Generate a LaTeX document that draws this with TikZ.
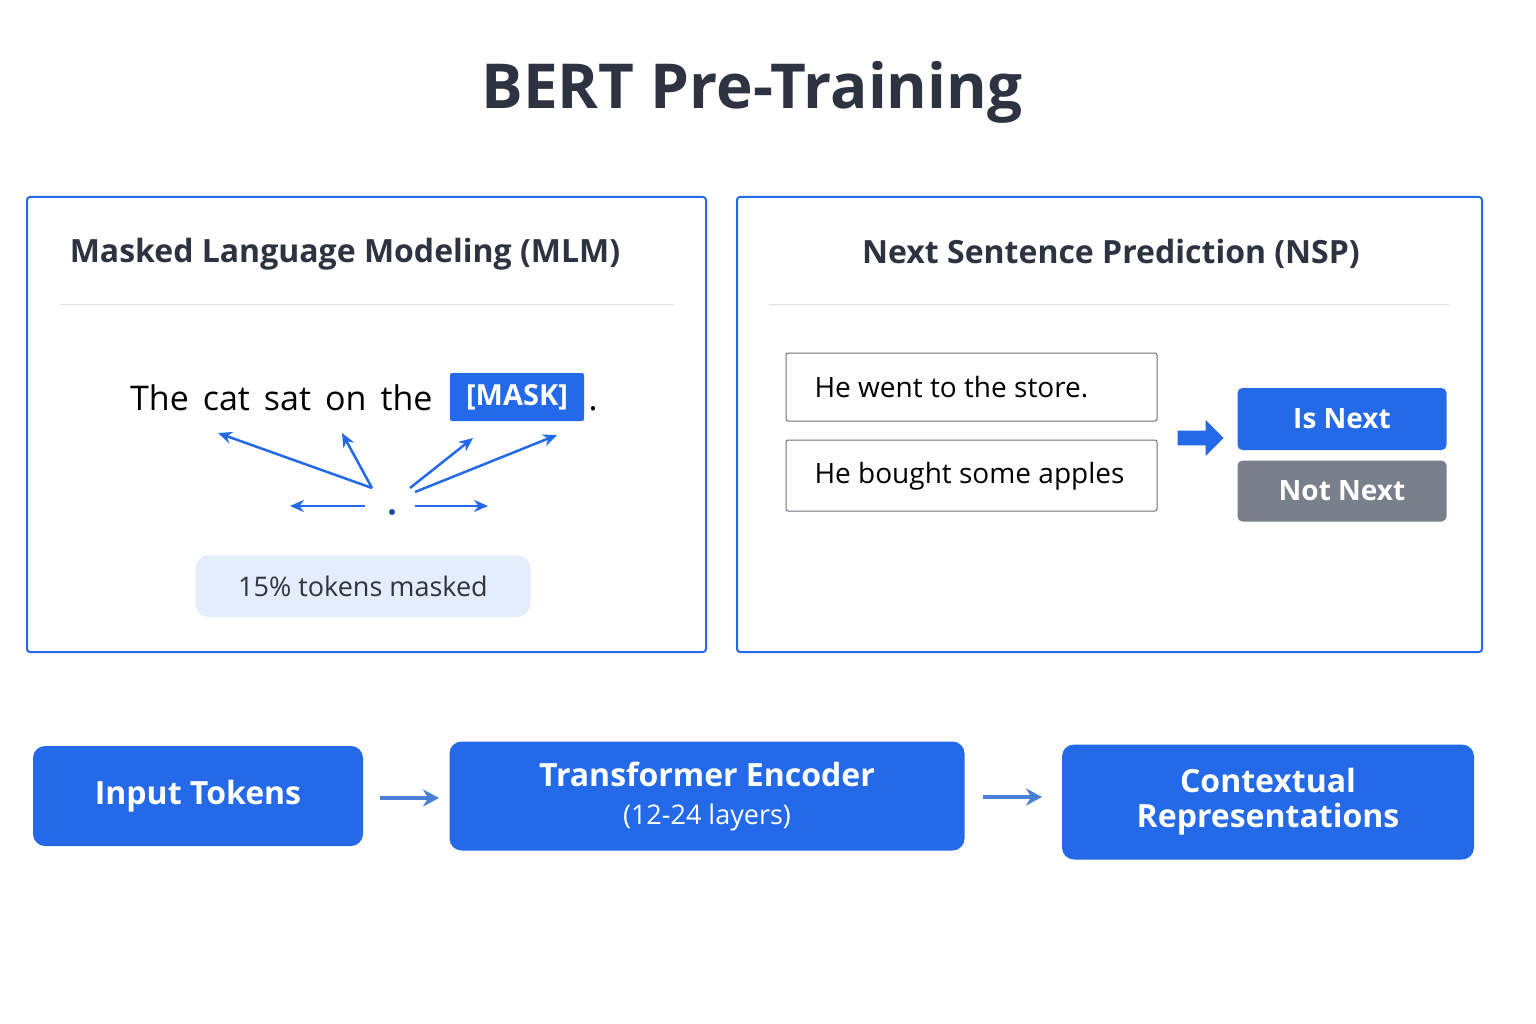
\documentclass[tikz,border=0pt]{standalone}
\usepackage{fontspec}
\setmainfont{Open Sans}
\usetikzlibrary{arrows.meta,shapes.arrows}
\definecolor{bblue}{HTML}{2369E8}
\definecolor{dark}{HTML}{2D3340}
\definecolor{lblue}{HTML}{E3EDFB}
\definecolor{gbox}{HTML}{7A808B}
\definecolor{arr}{HTML}{4A7FD8}
\newcommand{\fs}[1]{\fontsize{#1}{#1}\selectfont}
\tikzset{
 panel/.style={draw=bblue,line width=2pt,rounded corners=3pt},
 bluebox/.style={fill=bblue,rounded corners=12pt,text=white,font=\fs{32}\bfseries,align=center},
 sentbox/.style={draw=dark!70,line width=1pt,rounded corners=2pt},
 mlmarrow/.style={-{Stealth[length=14pt,width=12pt]},bblue,line width=2.5pt},
 flowarrow/.style={-{Stealth[length=16pt,width=17pt]},arr,line width=3.5pt},
}
\begin{document}
\begin{tikzpicture}[x=1pt,y=-1pt]
\useasboundingbox (0,0) rectangle (1536,1024);
\fill[white] (0,0) rectangle (1536,1024);
\node[text=dark,font=\fs{62}\bfseries] (title) at (752,92) {BERT Pre-Training};
% left panel
\draw[panel] (27,197) rectangle (706,652);
\node[text=dark,font=\fs{32}\bfseries] (mlmt) at (345,254) {Masked Language Modeling (MLM)};
\draw[black!12,line width=1pt] (60,304) -- (674,304);
\node[anchor=base east,font=\fs{34}] (sent) at (436,410) {\spaceskip=14pt plus 2pt The cat sat on the};
\node[fill=bblue,text=white,font=\fs{29}\bfseries,minimum width=134pt,minimum height=48pt,inner sep=0pt,rounded corners=2pt] (mask) at (517,397) {[MASK]};
\node[anchor=base west,font=\fs{34}] (dot) at (585,410) {.};
\coordinate (c1) at (372,488); \coordinate (c2) at (410,488); \coordinate (c3) at (415,492);
\coordinate (t1) at (218,433); \coordinate (t2) at (342,433); \coordinate (t3) at (473,438); \coordinate (t4) at (557,435);
\coordinate (h1) at (365,506); \coordinate (h1e) at (290,506); \coordinate (h2) at (415,506); \coordinate (h2e) at (488,506);
\draw[mlmarrow] (c1) -- (t1);
\draw[mlmarrow] (c1) -- (t2);
\draw[mlmarrow] (c2) -- (t3);
\draw[mlmarrow] (c3) -- (t4);
\draw[mlmarrow] (h1) -- (h1e);
\draw[mlmarrow] (h2) -- (h2e);
\fill[bblue!70!black] (392,512) circle (3pt);
\node[fill=lblue,rounded corners=14pt,minimum width=335pt,minimum height=62pt,text=dark,font=\fs{27}] (pct) at (363,586) {15\% tokens masked};
% right panel
\draw[panel] (737,197) rectangle (1482,652);
\node[text=dark,font=\fs{32}\bfseries] (nspt) at (1111,254) {Next Sentence Prediction (NSP)};
\draw[black!12,line width=1pt] (769,304) -- (1449,304);
\draw[sentbox] (786,353) rectangle (1157,421);
\node[anchor=west,font=\fs{28}] (s1) at (811,387) {He went to the store.};
\draw[sentbox] (786,440) rectangle (1157,511);
\node[anchor=west,font=\fs{28}] (s2) at (811,476) {He bought some apples};
\node[single arrow,fill=bblue,minimum height=46pt,minimum width=36pt,single arrow head extend=6pt,inner sep=4pt] (barr) at (1197,438) {};
\node[fill=bblue,text=white,font=\fs{28}\bfseries,minimum width=209pt,minimum height=62pt,rounded corners=5pt] (isn) at (1342,419) {Is Next};
\node[fill=gbox,text=white,font=\fs{28}\bfseries,minimum width=209pt,minimum height=61pt,rounded corners=5pt] (notn) at (1342,491) {Not Next};
% bottom flow
\node[bluebox,minimum width=330pt,minimum height=100pt] (inp) at (198,796) {Input Tokens};
\node[bluebox,minimum width=515pt,minimum height=109pt] (enc) at (707,796) {Transformer Encoder\\[6pt]{\fs{27}\mdseries (12-24 layers)}};
\node[bluebox,minimum width=412pt,minimum height=115pt,font=\fontsize{32}{35}\selectfont\bfseries] (ctx) at (1268,802) {Contextual\\Representations};
\draw[flowarrow] (380,798) -- (439,798);
\draw[flowarrow] (983,797) -- (1042,797);
\end{tikzpicture}
\end{document}
